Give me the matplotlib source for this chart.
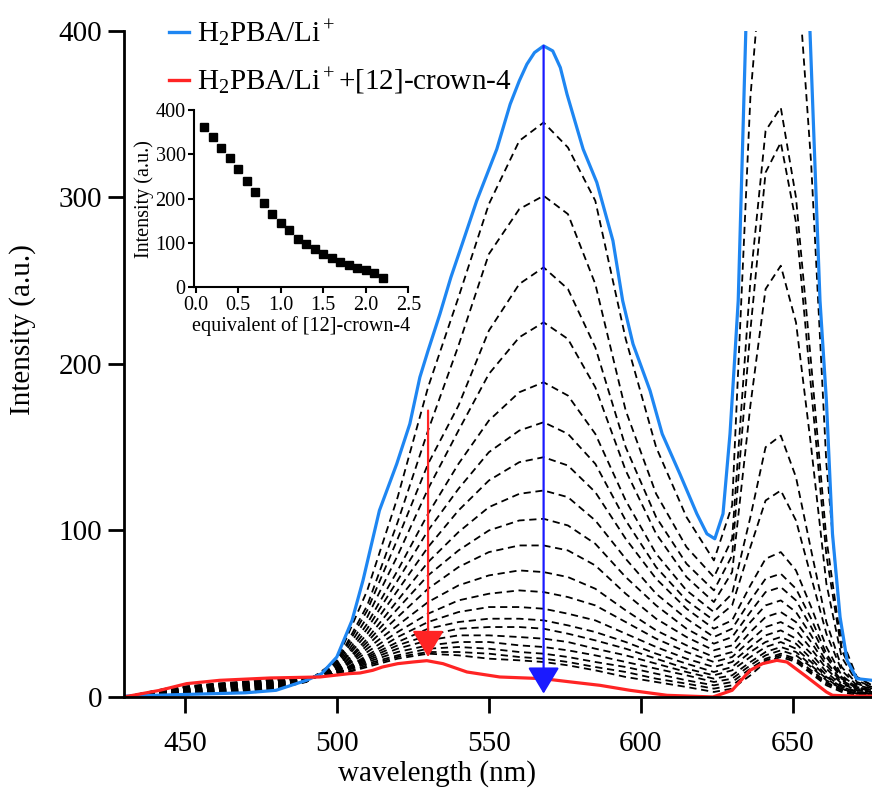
import matplotlib
matplotlib.use('Agg')
import matplotlib.pyplot as plt
from matplotlib.lines import Line2D

plt.rcParams['font.family'] = 'Liberation Serif'
plt.rcParams['mathtext.fontset'] = 'custom'
plt.rcParams['mathtext.rm'] = 'Liberation Serif'
plt.rcParams['mathtext.it'] = 'Liberation Serif:italic'

# blue curve: H2PBA/Li+
blue_wl = [430, 440, 450, 460, 470, 480, 490, 495, 500, 505, 508.6, 514, 519.7, 524, 527.3,
           530, 533.9, 537.5, 541.4, 546, 552.6, 557, 560, 562.5, 565, 568, 571, 573.5, 575.7,
           581, 585.5, 590.8, 594, 597.4, 603, 607, 612.8, 618.4, 621.7, 624.3, 627, 629.3,
           631, 632, 634.5, 638, 642, 646, 650, 653, 655.6, 658.9, 661, 663, 665.5, 667.8,
           671, 676]
blue_int = [0.5, 1, 1.5, 2, 2.5, 4, 10, 14, 24, 46, 70, 112, 140, 164, 192,
            208, 230, 252, 273, 298, 329, 356, 370, 380, 387, 391, 388, 378, 362,
            329, 309, 274, 238, 212, 184, 158, 134, 110, 98, 95, 110, 158,
            208, 238, 400, 520, 590, 610, 580, 480, 400, 238, 178, 98, 48, 22,
            11, 10]

# red curve: H2PBA/Li+ + [12]-crown-4
red_wl = [430, 441.8, 450.6, 461.5, 478, 494.4, 504, 507.6, 511.8, 515, 520, 525, 529.6,
          534.9, 542.8, 553.6, 567.8, 577, 586.5, 596.4, 608.6, 616, 623.7, 630, 635.9,
          640, 644.7, 648, 654.6, 661, 663, 670, 676]
red_int = [0, 4, 8, 10, 11.4, 12, 14, 14.4, 16, 18, 20, 21, 21.8,
           20, 15, 12, 11, 9, 7, 4, 1, 0.5, 0, 4, 16,
           20, 22, 21, 12, 3, 1, 0.5, 0.5]

# dashed titration spectra, all on the same wavelength grid
wl_grid = [430, 445, 460, 475, 490, 500, 510, 520, 530, 540, 550, 560, 568, 576, 585,
           595, 605, 615, 624, 630, 636, 641, 646, 651, 656, 661, 666, 671, 676]
dashed_spectra = [
    [0, 1.5, 2, 3, 9, 22, 64, 120, 186, 240, 296, 334, 345, 330, 298, 215, 150, 108, 82, 115, 360, 470, 480, 450, 320, 140, 35, 12, 7],
    [0, 1.7, 2.3, 3.4, 9.2, 21, 55, 105, 160, 211, 266, 293, 301, 290, 248, 172, 122, 90, 72, 95, 250, 340, 354, 300, 200, 95, 30, 12, 7],
    [0, 1.9, 2.6, 3.7, 9.3, 20, 52, 95, 140, 175, 220, 248, 258, 245, 210, 150, 108, 80, 64, 85, 220, 315, 333, 285, 185, 85, 28, 10, 6],
    [0, 2.1, 2.9, 4.1, 9.5, 19, 48, 85, 125, 160, 194, 216, 225, 215, 186, 136, 98, 72, 57, 75, 175, 245, 259, 225, 150, 68, 24, 9, 6],
    [0, 2.3, 3.3, 4.5, 9.6, 18, 44, 76, 110, 140, 166, 183, 189, 181, 158, 118, 86, 64, 51, 62, 108, 150, 157, 132, 88, 45, 18, 8, 5],
    [0, 2.6, 3.6, 4.8, 9.8, 17, 41, 70, 100, 125, 147, 160, 165, 158, 140, 106, 78, 58, 46, 55, 90, 118, 124, 106, 72, 38, 16, 7, 5],
    [0, 2.8, 3.9, 5.2, 9.9, 17, 38, 64, 90, 112, 130, 141, 144, 139, 123, 95, 71, 53, 41, 46, 67, 83, 87, 76, 54, 30, 13, 6, 4],
    [0, 3.0, 4.2, 5.6, 10.1, 16, 35, 58, 81, 99, 114, 122, 124, 120, 106, 83, 62, 47, 36, 41, 58, 71, 74, 65, 47, 26, 12, 6, 4],
    [0, 3.2, 4.5, 5.9, 10.3, 16, 33, 53, 73, 88, 100, 106, 107, 103, 92, 72, 55, 41, 32, 36, 51, 63, 66, 58, 42, 24, 11, 5, 4],
    [0, 3.4, 4.8, 6.3, 10.4, 15, 31, 48, 65, 78, 87, 91, 91, 88, 79, 62, 47, 36, 28, 31, 45, 55, 58, 51, 37, 21, 10, 5, 3],
    [0, 3.6, 5.2, 6.7, 10.6, 15, 29, 43, 57, 67, 73, 76, 75, 72, 65, 52, 40, 31, 24, 27, 39, 48, 51, 45, 33, 19, 9, 4, 3],
    [0, 3.8, 5.5, 7.1, 10.7, 15, 27, 39, 50, 58, 62, 64, 63, 60, 55, 45, 35, 27, 21, 24, 34, 42, 45, 40, 29, 17, 8, 4, 3],
    [0, 4.0, 5.8, 7.4, 10.9, 14, 25, 36, 45, 51, 54, 54, 53, 50, 46, 38, 30, 23, 18, 21, 30, 37, 40, 35, 26, 15, 7, 3, 2],
    [0, 4.2, 6.1, 7.8, 11.1, 14, 24, 33, 41, 45, 47, 47, 46, 43, 39, 33, 26, 20, 15, 18, 27, 33, 36, 32, 23, 13, 6, 3, 2],
    [0, 4.4, 6.4, 8.2, 11.2, 14, 23, 31, 37, 41, 42, 42, 41, 38, 34, 29, 23, 17, 13, 16, 24, 30, 33, 29, 21, 12, 6, 3, 2],
    [0, 4.7, 6.7, 8.5, 11.4, 14, 22, 29, 34, 37, 37, 36, 35, 33, 29, 25, 20, 15, 11, 13, 21, 27, 30, 27, 19, 11, 5, 2, 2],
    [0, 4.9, 7.1, 8.9, 11.5, 14, 21, 27, 31, 33, 33, 31, 30, 28, 25, 21, 17, 13, 9, 11, 19, 25, 28, 25, 18, 10, 5, 2, 1],
    [0, 5.1, 7.4, 9.3, 11.7, 14, 20, 25, 29, 30, 29, 27, 26, 24, 21, 18, 14, 10, 7, 9, 17, 23, 26, 23, 16, 9, 4, 2, 1],
    [0, 5.3, 7.7, 9.6, 11.8, 13, 19, 24, 27, 27, 26, 24, 23, 21, 18, 15, 11, 8, 5, 7, 15, 22, 25, 22, 15, 8, 4, 2, 1],
    [0, 5.5, 8, 10, 12, 13, 18, 23, 26, 25, 23, 22, 21, 19, 16, 12, 9, 6, 3, 5, 13, 21, 24, 21, 14, 7, 3, 1, 1],
]

# inset: intensity vs equivalents of crown ether
equiv = [0.1, 0.2, 0.3, 0.4, 0.5, 0.6, 0.7, 0.8, 0.9, 1.0, 1.1,
         1.2, 1.3, 1.4, 1.5, 1.6, 1.7, 1.8, 1.9, 2.0, 2.1, 2.2]
inset_int = [361, 338, 314, 292, 266, 239, 214, 191, 165, 146, 129,
             110, 98, 86, 75, 66, 58, 50, 44, 39, 32, 22]

# arrows (wavelength, start, end)
blue_arrow = (568, 391, 2)
red_arrow = (530, 172, 24)

BLUE = '#1e86f2'
RED = '#ff2424'

fig = plt.figure(figsize=(8.72, 7.93), dpi=100)
ax = fig.add_axes([0.1422, 0.1211, 0.8578, 0.8399])

for row in dashed_spectra:
    ax.plot(wl_grid, row, color='black', lw=1.3, ls=(0, (4, 2.6)))
ax.plot(blue_wl, blue_int, color=BLUE, lw=2.3)
ax.plot(red_wl, red_int, color=RED, lw=2.3)

for (x, y0, y1), c in [(blue_arrow, '#1a1aff'), (red_arrow, RED)]:
    ax.annotate('', xy=(x, y1), xytext=(x, y0),
                arrowprops=dict(arrowstyle='-|>,head_length=0.75,head_width=0.45',
                                color=c, lw=1.6, shrinkA=0, shrinkB=0,
                                mutation_scale=22))

ax.set_xlim(430, 676)
ax.set_ylim(0, 400)
ax.set_xticks([450, 500, 550, 600, 650])
ax.set_yticks([0, 100, 200, 300, 400])
for s in ['top', 'right']:
    ax.spines[s].set_visible(False)
for s in ['left', 'bottom']:
    ax.spines[s].set_linewidth(2)
ax.tick_params(direction='out', length=11.5, width=2, labelsize=21)
ax.tick_params(axis='x', pad=13)
ax.tick_params(axis='y', pad=4)
ax.set_xlabel('wavelength (nm)', fontsize=21)
ax.set_ylabel('Intensity (a.u.)', fontsize=21)
ax.xaxis.set_label_coords(0.418, -0.094)
ax.yaxis.set_label_coords(-0.118, 0.551)

handles = [Line2D([], [], color=BLUE, lw=2.4), Line2D([], [], color=RED, lw=2.4)]
labels = [r'H$_{\rm 2}$PBA/Li$^{\rm +}$', r'H$_{\rm 2}$PBA/Li$^{\rm +}$+[12]-crown-4']
ax.legend(handles, labels, loc='upper left', bbox_to_anchor=(0.06, 1.02),
          frameon=False, fontsize=21, handlelength=0.7, handletextpad=0.25,
          labelspacing=0.6, borderaxespad=0, borderpad=0)

ins = fig.add_axes([0.2225, 0.6377, 0.2458, 0.2236])
ins.plot(equiv, inset_int, 's', color='black', ms=5.5)
ins.set_xlim(-0.02, 2.5)
ins.set_ylim(0, 400)
ins.set_xticks([0.0, 0.5, 1.0, 1.5, 2.0, 2.5])
ins.set_xticklabels(['0.0', '0.5', '1.0', '1.5', '2.0', '2.5'])
ins.set_yticks([0, 100, 200, 300, 400])
for s in ['top', 'right']:
    ins.spines[s].set_visible(False)
for s in ['left', 'bottom']:
    ins.spines[s].set_linewidth(1.5)
ins.tick_params(direction='out', length=4, width=1.5, labelsize=14.5, pad=2)
ins.set_xlabel('equivalent of [12]-crown-4', fontsize=14.5, labelpad=1)
ins.set_ylabel('Intensity (a.u.)', fontsize=14.5, labelpad=1)
ins.patch.set_alpha(0)

fig.savefig('out.png', dpi=100)
